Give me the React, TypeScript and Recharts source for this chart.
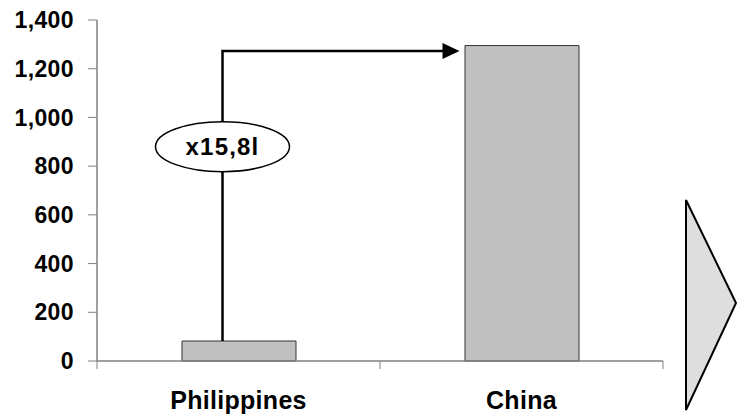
import React from "react";
import {
  BarChart,
  Bar,
  XAxis,
  YAxis,
  ReferenceLine,
  ReferenceDot,
} from "recharts";

// Categories and values
const countries = ["Philippines", "China"];
const values = [82, 1295];
const yTicks = [0, 200, 400, 600, 800, 1000, 1200, 1400];
const ratioLabel = "x15,8l";
// Level of the connector arrow and of the ratio bubble
const arrowLevel = 1273;
const bubbleLevel = 880;

const data = countries.map((name, i) => ({ name, value: values[i] }));

const W = 737;
const H = 414;
const MARGIN = { top: 20, right: 74, bottom: 0, left: 0 };
const Y_AXIS_W = 97;
const X_AXIS_H = 53;
const BAR_SIZE = 114;
const BAND = (W - MARGIN.left - MARGIN.right - Y_AXIS_W) / countries.length;
const LINE_SHIFT = -16;
const AXIS_COLOR = "#808080";
const FONT = "'Liberation Sans', Arial, sans-serif";

const CategoryTick = (props: any) => {
  const { x, y, payload, index } = props;
  return (
    <g>
      {index === 0 && (
        <line x1={x - BAND / 2} y1={y - 8} x2={x - BAND / 2} y2={y} stroke={AXIS_COLOR} />
      )}
      <line x1={x + BAND / 2} y1={y - 8} x2={x + BAND / 2} y2={y} stroke={AXIS_COLOR} />
      <text
        x={x}
        y={y + 40}
        textAnchor="middle"
        fontFamily={FONT}
        fontWeight="bold"
        fontSize={25}
        letterSpacing={0.3}
        fill="#000"
      >
        {payload.value}
      </text>
    </g>
  );
};

const ConnectorArrow = (props: any) => {
  const { x1, y1, x2, y2 } = props;
  const lx = x1 + LINE_SHIFT;
  const tip = x2 - BAR_SIZE / 2 - 5;
  const headLen = 17;
  return (
    <g>
      <path
        d={`M${lx},${y1} V${y2} H${tip - headLen + 1}`}
        fill="none"
        stroke="#000"
        strokeWidth={2.5}
      />
      <polygon
        points={`${tip - headLen},${y2 - 8} ${tip},${y2} ${tip - headLen},${y2 + 8}`}
        fill="#000"
      />
    </g>
  );
};

const RatioBubble = (props: any) => {
  const { cx, cy } = props;
  const x = cx + LINE_SHIFT;
  return (
    <g>
      <ellipse cx={x} cy={cy} rx={67} ry={25} fill="#fff" stroke="#000" strokeWidth={1.5} />
      <text
        x={x}
        y={cy}
        dy="0.36em"
        textAnchor="middle"
        fontFamily={FONT}
        fontWeight="bold"
        fontSize={24}
        letterSpacing={1.2}
        fill="#000"
      >
        {ratioLabel}
      </text>
    </g>
  );
};

export default function App() {
  return (
    <div style={{ position: "absolute", left: 0, top: 0, width: W, height: H, background: "#fff" }}>
      <BarChart width={W} height={H} data={data} margin={MARGIN}>
        <XAxis
          dataKey="name"
          height={X_AXIS_H}
          axisLine={{ stroke: AXIS_COLOR, strokeWidth: 1.5 }}
          tickLine={false}
          tickSize={8}
          tickMargin={0}
          interval={0}
          tick={<CategoryTick />}
        />
        <YAxis
          width={Y_AXIS_W}
          domain={[0, 1400]}
          ticks={yTicks}
          interval={0}
          axisLine={{ stroke: AXIS_COLOR, strokeWidth: 1.5 }}
          tickLine={{ stroke: AXIS_COLOR }}
          tickSize={9}
          tickMargin={14}
          tickFormatter={(v: number) => v.toLocaleString("en-US")}
          tick={{
            fill: "#000",
            fontSize: 23,
            fontWeight: "bold",
            fontFamily: FONT,
            letterSpacing: 0.4,
          }}
        />
        <Bar
          dataKey="value"
          barSize={BAR_SIZE}
          fill="#c0c0c0"
          stroke="#333"
          strokeWidth={1}
          isAnimationActive={false}
        />
        <ReferenceLine
          segment={[
            { x: countries[0], y: values[0] },
            { x: countries[1], y: arrowLevel },
          ]}
          ifOverflow="visible"
          shape={<ConnectorArrow />}
        />
        <ReferenceDot
          x={countries[0]}
          y={bubbleLevel}
          ifOverflow="visible"
          shape={<RatioBubble />}
        />
      </BarChart>
      <svg
        width={W}
        height={H}
        style={{ position: "absolute", left: 0, top: 0, pointerEvents: "none" }}
      >
        <polygon points="686,200 736,303 686,410" fill="#dedede" stroke="#000" strokeWidth={2} />
      </svg>
    </div>
  );
}
